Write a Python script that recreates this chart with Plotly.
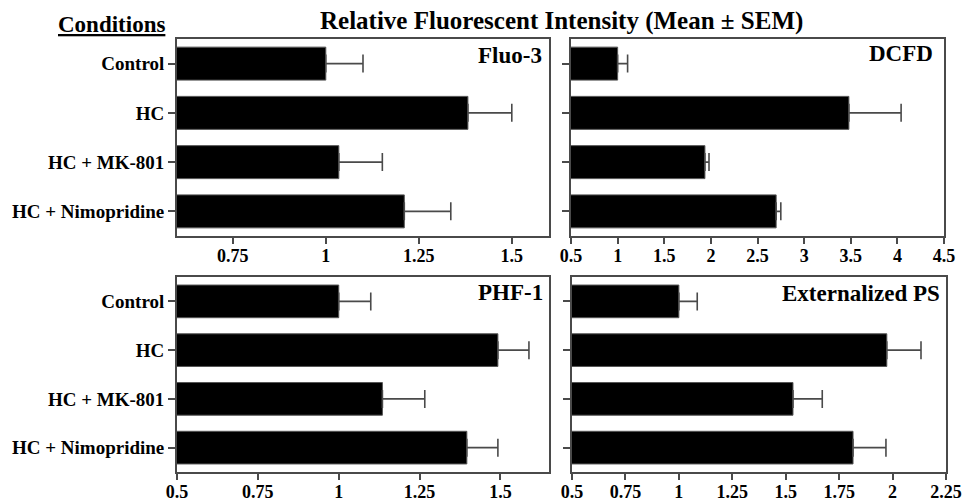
import plotly.graph_objects as go

conditions = ["Control", "HC", "HC + MK-801", "HC + Nimopridine"]

fluo3_mean = [1.0, 1.382, 1.035, 1.211]
fluo3_sem = [0.10, 0.118, 0.117, 0.125]

dcfd_mean = [1.0, 3.48, 1.936, 2.70]
dcfd_sem = [0.107, 0.56, 0.044, 0.05]

phf1_mean = [1.0, 1.492, 1.135, 1.396]
phf1_sem = [0.099, 0.096, 0.131, 0.096]

ps_mean = [1.0, 1.973, 1.534, 1.815]
ps_sem = [0.086, 0.16, 0.137, 0.154]

fluo3_ticks = [0.75, 1, 1.25, 1.5]
fluo3_ticktext = ["0.75", "1", "1.25", "1.5"]
dcfd_ticks = [0.5, 1, 1.5, 2, 2.5, 3, 3.5, 4, 4.5]
dcfd_ticktext = ["0.5", "1", "1.5", "2", "2.5", "3", "3.5", "4", "4.5"]
phf1_ticks = [0.5, 0.75, 1, 1.25, 1.5]
phf1_ticktext = ["0.5", "0.75", "1", "1.25", "1.5"]
ps_ticks = [0.5, 0.75, 1, 1.25, 1.5, 1.75, 2, 2.25]
ps_ticktext = ["0.5", "0.75", "1", "1.25", "1.5", "1.75", "2", "2.25"]

panels = [
    ("Fluo-3", fluo3_mean, fluo3_sem, [0.6, 1.6], fluo3_ticks, fluo3_ticktext),
    ("DCFD", dcfd_mean, dcfd_sem, [0.5, 4.5], dcfd_ticks, dcfd_ticktext),
    ("PHF-1", phf1_mean, phf1_sem, [0.5, 1.65], phf1_ticks, phf1_ticktext),
    ("Externalized PS", ps_mean, ps_sem, [0.5, 2.25], ps_ticks, ps_ticktext),
]

W, H = 963, 501
# pixel boxes (left, right, top, bottom)
boxes = [
    (177, 549, 39, 236),
    (571, 944, 39, 236),
    (177, 549, 277, 472),
    (572, 946, 277, 472),
]

FONT = "Liberation Serif"
LINE = "#4a4a4a"

fig = go.Figure()
layout = {}
for i, (name, mean, sem, xr, tv, tt) in enumerate(panels):
    n = i + 1
    xa = "x" if n == 1 else f"x{n}"
    ya = "y" if n == 1 else f"y{n}"
    fig.add_trace(go.Bar(
        x=mean, y=conditions, orientation="h",
        xaxis=xa, yaxis=ya, width=0.67,
        marker=dict(color="black", line=dict(color="#555", width=1)),
        error_x=dict(type="data", array=sem, arrayminus=[0] * len(sem),
                     symmetric=False, color=LINE, thickness=1.6, width=9),
        showlegend=False,
    ))
    l, r, t, b = boxes[i]
    xkey = "xaxis" if n == 1 else f"xaxis{n}"
    ykey = "yaxis" if n == 1 else f"yaxis{n}"
    layout[xkey] = dict(
        domain=[l / W, r / W], anchor=ya, range=xr, automargin=False,
        tickvals=tv, ticktext=tt, ticks="outside", ticklen=6,
        ticklabelstandoff=-4,
        tickcolor=LINE, tickwidth=1.5,
        showline=True, linecolor=LINE, linewidth=1.8, mirror=True,
        showgrid=False, zeroline=False,
        tickfont=dict(family=FONT, size=18, color="black", weight="bold"),
        fixedrange=True,
    )
    layout[ykey] = dict(
        domain=[1 - b / H, 1 - t / H], anchor=xa, automargin=False,
        type="category", categoryorder="array", categoryarray=conditions,
        range=[3.5, -0.5], ticks="outside", ticklen=7,
        tickcolor=LINE, tickwidth=1.5,
        showline=True, linecolor=LINE, linewidth=1.8, mirror=True,
        showgrid=False, zeroline=False,
        showticklabels=(n in (1, 3)),
        tickfont=dict(family=FONT, size=19, color="black", weight="bold"),
        fixedrange=True,
    )

annotations = [
    dict(text="<b>Relative Fluorescent Intensity (Mean ± SEM)</b>",
         x=561.5 / W, y=1 - 21 / H, xref="paper", yref="paper",
         xanchor="center", yanchor="middle", showarrow=False,
         font=dict(family=FONT, size=25, color="black")),
    dict(text="<b><u>Conditions</u></b>",
         x=111 / W, y=1 - 24 / H, xref="paper", yref="paper",
         xanchor="center", yanchor="middle", showarrow=False,
         font=dict(family=FONT, size=23, color="black")),
]
label_pos = [(544, 55), (935, 54), (545, 292), (942, 293)]
for i, (name, *_rest) in enumerate(panels):
    px, py = label_pos[i]
    annotations.append(dict(
        text=f"<b>{name}</b>", x=px / W, y=1 - py / H,
        xref="paper", yref="paper", xanchor="right", yanchor="middle",
        showarrow=False, font=dict(family=FONT, size=23, color="black")))

fig.update_layout(
    width=W, height=H, margin=dict(l=0, r=0, t=0, b=0, autoexpand=False),
    paper_bgcolor="white", plot_bgcolor="white",
    annotations=annotations, **layout,
)

fig.write_html(
    "out.html",
    config={"displayModeBar": False},
    post_script="document.body.style.margin='0';document.body.style.overflow='hidden';",
)
